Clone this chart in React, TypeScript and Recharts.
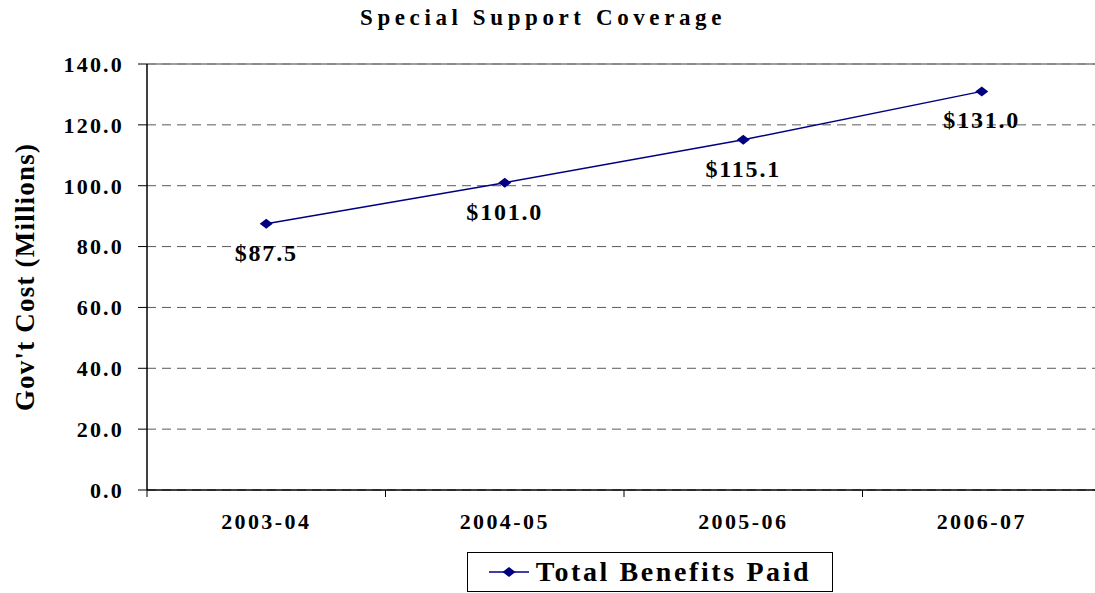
import React from 'react';
import { LineChart, Line, XAxis, YAxis, CartesianGrid, ReferenceLine, LabelList } from 'recharts';

const years = ['2003-04', '2004-05', '2005-06', '2006-07'];
const benefits = [87.5, 101.0, 115.1, 131.0];
const yTicks = [0, 20, 40, 60, 80, 100, 120, 140];

const data = years.map((year, i) => ({ idx: i, year, benefits: benefits[i] }));

const FONT = '"Liberation Serif", "Times New Roman", serif';
const NAVY = '#000080';

// ticks at half steps are the category borders, whole steps carry the labels
const xTickValues = [-0.5, 0, 0.5, 1, 1.5, 2, 2.5, 3, 3.5];

function XTick(props: any) {
  const { x, y, payload } = props;
  const v = payload.value;
  if (Number.isInteger(v)) {
    return (
      <text x={x} y={y + 39} textAnchor="middle" fontFamily={FONT} fontWeight="bold" fontSize={22} letterSpacing={2.4} fill="#000">
        {years[v]}
      </text>
    );
  }
  return <line x1={x} x2={x} y1={y} y2={y + 7} stroke="#000" strokeWidth={1} />;
}

function Diamond(props: any) {
  const { cx, cy } = props;
  if (cx == null || cy == null) return null;
  return <polygon points={`${cx - 6.5},${cy} ${cx},${cy - 5} ${cx + 6.5},${cy} ${cx},${cy + 5}`} fill={NAVY} />;
}

function ValueLabel(props: any) {
  const { x, y, value } = props;
  return (
    <text x={x} y={y + 37} textAnchor="middle" fontFamily={FONT} fontWeight="bold" fontSize={24} letterSpacing={1.8} fill="#000">
      {`$${Number(value).toFixed(1)}`}
    </text>
  );
}

function YLabel(props: any) {
  const vb = props.viewBox || { x: 0, y: 64, height: 426 };
  const cx = 25;
  const cy = vb.y + vb.height / 2;
  return (
    <text x={cx} y={cy} transform={`rotate(-90, ${cx}, ${cy})`} textAnchor="middle" dominantBaseline="central" fontFamily={FONT} fontWeight="bold" fontSize={27} letterSpacing={1.2} fill="#000">
      Gov't Cost (Millions)
    </text>
  );
}

export default function App() {
  return (
    <div style={{ position: 'absolute', left: 0, top: 0, width: 1095, height: 593, overflow: 'hidden', background: '#fff' }}>
      <div style={{ position: 'absolute', left: 0, width: 1086, top: 5, textAlign: 'center', fontFamily: FONT, fontWeight: 'bold', fontSize: 23, letterSpacing: 4.6 }}>
        Special Support Coverage
      </div>
      <LineChart width={1110} height={593} data={data} margin={{ top: 64, right: 9, left: 0, bottom: 53 }}>
        <CartesianGrid vertical={false} stroke="#5a5a5a" strokeDasharray="9 6" />
        <ReferenceLine y={140} stroke="#808080" strokeWidth={1.5} />
        <XAxis
          dataKey="idx"
          type="number"
          domain={[-0.5, 3.5]}
          ticks={xTickValues}
          interval={0}
          height={50}
          tickSize={0}
          tickMargin={0}
          tick={<XTick />}
          axisLine={{ stroke: '#000', strokeWidth: 1.5 }}
        />
        <YAxis
          width={147}
          domain={[0, 140]}
          ticks={yTicks}
          interval={0}
          tickSize={9}
          tickMargin={14}
          tickFormatter={(v: number) => v.toFixed(1)}
          tick={{ fontFamily: FONT, fontWeight: 'bold', fontSize: 22, fill: '#000', letterSpacing: 2.2 }}
          axisLine={{ stroke: '#000', strokeWidth: 1.5 }}
          tickLine={{ stroke: '#000' }}
          label={<YLabel />}
        />
        <Line
          type="linear"
          dataKey="benefits"
          name="Total Benefits Paid"
          stroke={NAVY}
          strokeWidth={1.5}
          dot={<Diamond />}
          activeDot={false}
          isAnimationActive={false}
        >
          <LabelList dataKey="benefits" content={<ValueLabel />} />
        </Line>
      </LineChart>
      <div style={{ position: 'absolute', left: 467, top: 552, width: 366, height: 40, boxSizing: 'border-box', border: '1.5px solid #000', display: 'flex', alignItems: 'center', justifyContent: 'center', fontFamily: FONT, fontWeight: 'bold', fontSize: 28, letterSpacing: 2.6 }}>
        <svg width={40} height={14} style={{ marginRight: 7 }}>
          <line x1={0} x2={40} y1={7} y2={7} stroke={NAVY} strokeWidth={1.5} />
          <polygon points="13.5,7 20,2 26.5,7 20,12" fill={NAVY} />
        </svg>
        <span>Total Benefits Paid</span>
      </div>
    </div>
  );
}
